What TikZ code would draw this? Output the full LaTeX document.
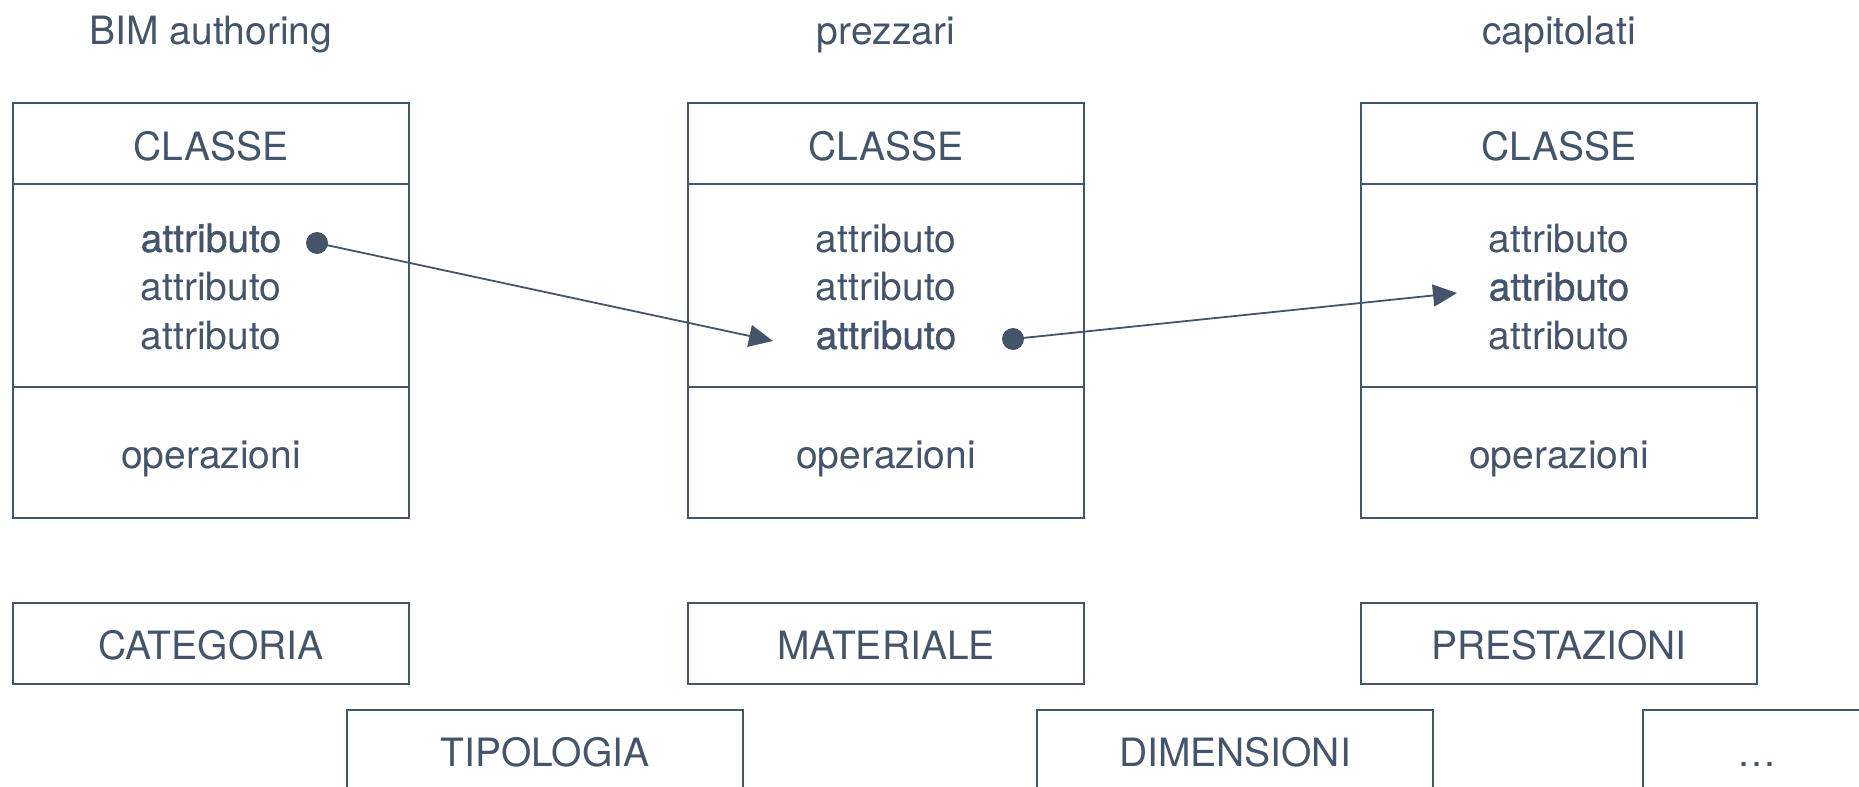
\documentclass[tikz,border=0pt]{standalone}
\usepackage{fontspec}
\setmainfont{TeX Gyre Heros}
\newfontfamily\heavyfont{TeX Gyre Heros}[FakeBold=1]
\usetikzlibrary{arrows.meta}
\definecolor{ink}{HTML}{44546A}
\begin{document}
\begin{tikzpicture}[x=0.5pt,y=-0.5pt,
  every node/.style={text=ink, font=\fontsize{19.5}{23}\selectfont},
  part/.style={draw=ink, line width=0.9pt, minimum width=198pt, inner sep=0pt, outer sep=0pt, anchor=north west},
  hpart/.style={part, minimum height=40.5pt},
  apart/.style={part, minimum height=101.5pt},
  opart/.style={part, minimum height=65.5pt},
  lbl/.style={anchor=base, inner sep=0pt},
  hl/.style={lbl, font=\fontsize{19.5}{23}\selectfont\heavyfont},
  dotmark/.style={circle, fill=ink, draw=none, minimum size=11pt, inner sep=0pt},
  link/.style={draw=ink, line width=0.9pt, -{Triangle[length=12pt,width=11pt]}}
]
\useasboundingbox (0,0) rectangle (1859,787);
\clip (0,0) rectangle (1859,787);

% titles
\node[lbl] (t1) at (211,45) {BIM authoring};
\node[lbl] (t2) at (886,45) {prezzari};
\node[lbl] (t3) at (1559,45) {capitolati};

% class boxes
\foreach \n/\X/\C in {1/13/211, 2/688/886, 3/1361/1559}{
  \node[hpart] (h\n) at (\X,103) {};
  \node[apart] (a\n) at (\X,184) {};
  \node[opart] (o\n) at (\X,387) {};
  \node[lbl] (cl\n) at (\C,160) {CLASSE};
  \node[lbl] (op\n) at (\C,468) {operazioni};
}

% attributes
\node[hl]  (a11) at (211,252) {attributo};
\node[lbl] (a12) at (211,300.5) {attributo};
\node[lbl] (a13) at (211,349) {attributo};
\node[lbl] (a21) at (886,252) {attributo};
\node[lbl] (a22) at (886,300.5) {attributo};
\node[hl]  (a23) at (886,349) {attributo};
\node[lbl] (a31) at (1559,252) {attributo};
\node[hl]  (a32) at (1559,300.5) {attributo};
\node[lbl] (a33) at (1559,349) {attributo};

% lower boxes
\node[hpart] (cat) at (13,603) {};
\node[lbl] at (211,659) {CATEGORIA};
\node[hpart] (mat) at (688,603) {};
\node[lbl] at (886,659) {MATERIALE};
\node[hpart] (pre) at (1361,603) {};
\node[lbl] at (1559,659) {PRESTAZIONI};
\node[hpart] (tip) at (347,710) {};
\node[lbl] at (545,766) {TIPOLOGIA};
\node[hpart] (dim) at (1037,710) {};
\node[lbl] at (1235,766) {DIMENSIONI};
\node[hpart, minimum width=113.5pt] (etc) at (1643,710) {};
\node[lbl] at (1757,766) {\dots};

% links
\node[dotmark] (d1) at (317,243) {};
\node[dotmark] (d2) at (1013,339) {};
\coordinate (e1) at (773,341);
\coordinate (e2) at (1457,293);
\draw[link] (d1.center) -- (e1);
\draw[link] (d2.center) -- (e2);
\end{tikzpicture}
\end{document}
